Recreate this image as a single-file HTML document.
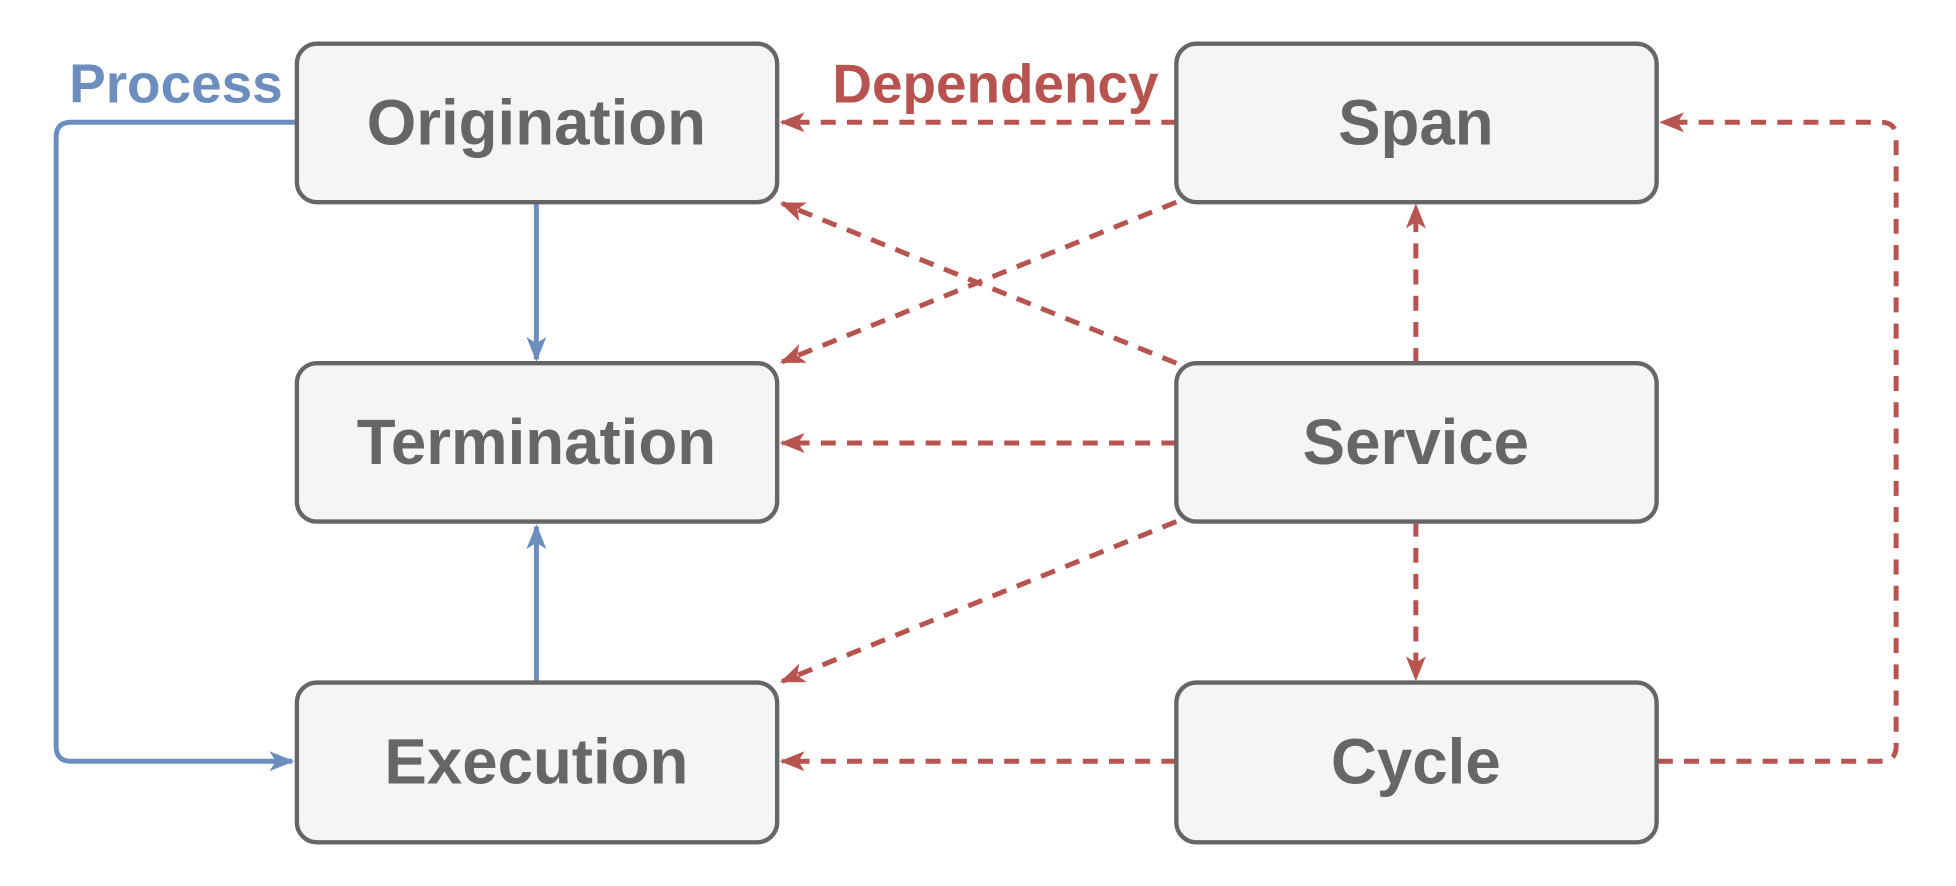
<!DOCTYPE html>
<html><head><meta charset="utf-8"><style>
html,body{margin:0;padding:0;background:#fff;width:1956px;height:886px;overflow:hidden}
svg{display:block}
text{font-family:"Liberation Sans",Arial,sans-serif;font-weight:bold}
</style></head><body>
<svg width="1956" height="886" viewBox="0 0 1568 710" preserveAspectRatio="none" xmlns="http://www.w3.org/2000/svg">
<defs>
<marker id="ab" markerWidth="20" markerHeight="20" refX="18" refY="10" orient="auto" markerUnits="userSpaceOnUse" viewBox="0 0 20 20">
<path d="M0,2 L20,10 L0,18 L5,10 Z" fill="#6c8ebf"/></marker>
<marker id="ar" markerWidth="20" markerHeight="20" refX="18" refY="10" orient="auto" markerUnits="userSpaceOnUse" viewBox="0 0 20 20">
<path d="M0,2 L20,10 L0,18 L5,10 Z" fill="#b85450"/></marker>
</defs>
<g fill="none" stroke="#6c8ebf" stroke-width="4">
<path d="M430,163 L430,288" marker-end="url(#ab)"/>
<path d="M430,546 L430,422" marker-end="url(#ab)"/>
<path d="M237,98 L57,98 Q45,98 45,110 L45,598 Q45,610 57,610 L234,610" marker-end="url(#ab)"/>
</g>
<g fill="none" stroke="#b85450" stroke-width="4" stroke-dasharray="12,9">
<path d="M943,98 L627,98" marker-end="url(#ar)"/>
<path d="M943,162 L627,290" marker-end="url(#ar)"/>
<path d="M943,291 L627,163" marker-end="url(#ar)"/>
<path d="M943,355 L627,355" marker-end="url(#ar)"/>
<path d="M943,418 L627,546" marker-end="url(#ar)"/>
<path d="M1135,291 L1135,165" marker-end="url(#ar)"/>
<path d="M1135,418 L1135,544" marker-end="url(#ar)"/>
<path d="M943,610 L627,610" marker-end="url(#ar)"/>
<path d="M1329,610 L1508,610 Q1520,610 1520,598 L1520,110 Q1520,98 1508,98 L1332,98" marker-end="url(#ar)"/>
</g>
<g fill="#f5f5f5" stroke="#666" stroke-width="3.5">
<rect x="238" y="35" width="385" height="127" rx="16"/>
<rect x="238" y="291" width="385" height="127" rx="16"/>
<rect x="238" y="547" width="385" height="128" rx="16"/>
<rect x="943" y="35" width="385" height="127" rx="16"/>
<rect x="943" y="291" width="385" height="127" rx="16"/>
<rect x="943" y="547" width="385" height="128" rx="16"/>
</g>
<g fill="#666" font-size="51" text-anchor="middle">
<text x="430" y="116">Origination</text>
<text x="430" y="372">Termination</text>
<text x="430" y="628">Execution</text>
<text x="1135" y="116">Span</text>
<text x="1135" y="372">Service</text>
<text x="1135" y="628">Cycle</text>
</g>
<text x="141" y="82" font-size="44" fill="#6c8ebf" text-anchor="middle">Process</text>
<text x="798" y="82" font-size="44" fill="#b85450" text-anchor="middle">Dependency</text>
</svg>
</body></html>
